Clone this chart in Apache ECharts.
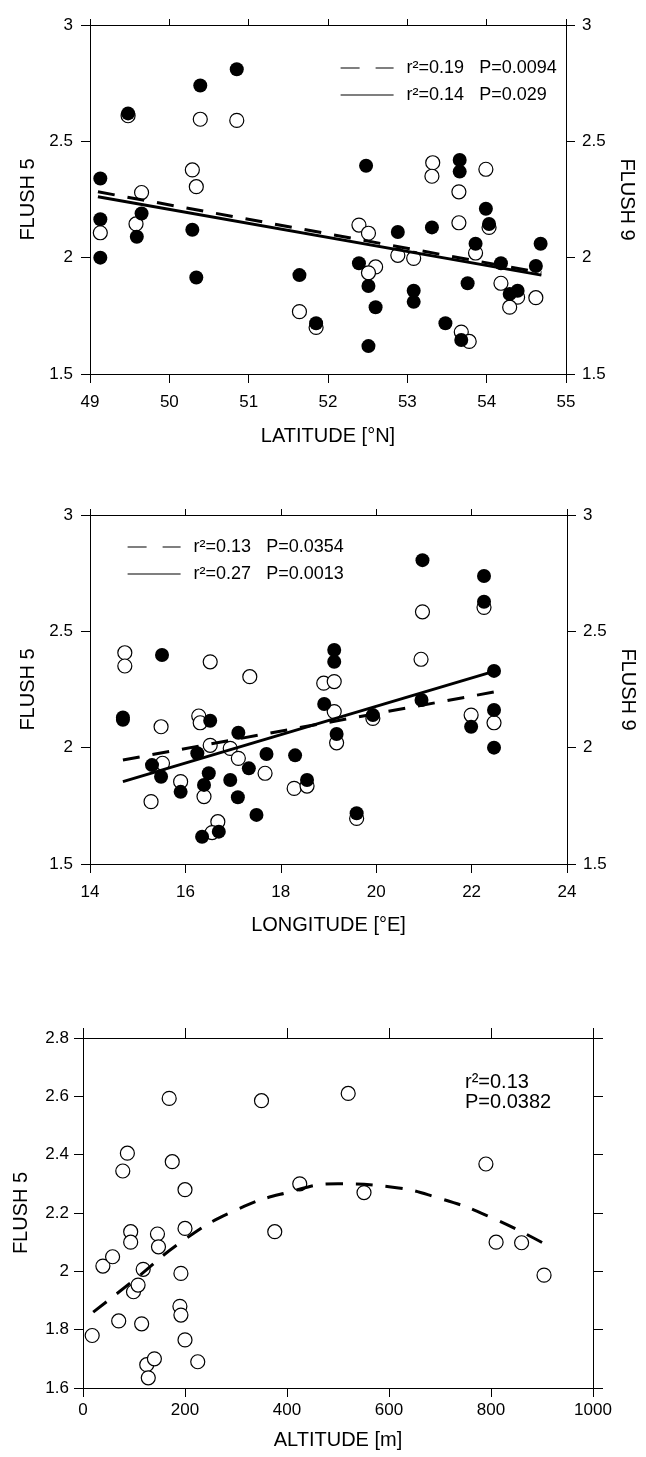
<!DOCTYPE html>
<html>
<head>
<meta charset="utf-8">
<title>FLUSH 5 / FLUSH 9 vs latitude, longitude, altitude</title>
<script src="https://cdn.jsdelivr.net/npm/echarts@6/dist/echarts.min.js"></script>
<style>
  html, body { margin: 0; padding: 0; background: #fff; }
  #chart { width: 646px; height: 1457px; }
</style>
</head>
<body>
<div id="chart"></div>
<script>
// ---- panel 1 : latitude [°N] ----
const latFilled = [
  [50.85, 2.81], [50.39, 2.74], [49.48, 2.62], [49.13, 2.34], [49.13, 2.165], [49.13, 2.0],
  [49.65, 2.19], [49.59, 2.09], [50.29, 2.12], [50.34, 1.915], [52.48, 2.395], [53.66, 2.42],
  [53.66, 2.37], [53.99, 2.21], [54.03, 2.145], [52.88, 2.11], [53.31, 2.13], [53.86, 2.06],
  [54.68, 2.06], [54.62, 1.964], [54.18, 1.976], [52.39, 1.976], [51.64, 1.925], [52.51, 1.878],
  [53.08, 1.858], [53.08, 1.81], [53.76, 1.89], [52.60, 1.787], [54.29, 1.844], [54.39, 1.858],
  [51.85, 1.718], [53.48, 1.718], [53.68, 1.646], [52.51, 1.62]
]
const latOpen = [
  [49.48, 2.61], [50.39, 2.595], [50.85, 2.59], [50.29, 2.377], [50.34, 2.305], [49.65, 2.28],
  [49.13, 2.107], [49.58, 2.145], [53.32, 2.408], [53.31, 2.35], [53.99, 2.38], [53.65, 2.283],
  [53.65, 2.15], [52.39, 2.14], [52.51, 2.105], [52.88, 2.01], [53.08, 1.997], [53.86, 2.02],
  [52.60, 1.96], [52.51, 1.935], [54.18, 1.89], [54.39, 1.83], [54.29, 1.787], [54.62, 1.828],
  [51.64, 1.768], [51.85, 1.70], [53.68, 1.68], [53.78, 1.64], [54.03, 2.13]
]
const latDashed = [[49.1, 2.283], [54.69, 1.935]]
const latSolid = [[49.1, 2.262], [54.69, 1.925]]
const latDashedName = 'r²=0.19   P=0.0094'
const latSolidName = 'r²=0.14   P=0.029'

// ---- panel 2 : longitude [°E] ----
const lonFilled = [
  [15.51, 2.398], [14.69, 2.13], [14.69, 2.12], [16.52, 2.116], [17.11, 2.064], [16.25, 1.976],
  [15.30, 1.925], [15.49, 1.875], [16.49, 1.89], [16.94, 1.861], [17.70, 1.973], [17.33, 1.911],
  [15.90, 1.81], [16.39, 1.84], [17.10, 1.787], [17.49, 1.711], [16.35, 1.617], [16.70, 1.639],
  [20.97, 2.806], [22.26, 2.738], [22.26, 2.627], [19.12, 2.42], [19.12, 2.369], [22.47, 2.33],
  [18.91, 2.188], [20.95, 2.205], [22.47, 2.162], [19.93, 2.14], [21.99, 2.09], [19.17, 2.059],
  [22.47, 2.0], [18.30, 1.967], [18.55, 1.861], [19.59, 1.718]
]
const lonOpen = [
  [14.73, 2.408], [14.73, 2.351], [16.52, 2.369], [17.35, 2.305], [15.49, 2.09], [16.28, 2.136],
  [16.31, 2.107], [16.52, 2.01], [16.94, 1.997], [17.11, 1.954], [15.52, 1.933], [17.67, 1.89],
  [15.90, 1.854], [16.39, 1.79], [15.28, 1.768], [16.68, 1.682], [16.56, 1.635], [20.97, 2.584],
  [22.26, 2.603], [20.94, 2.38], [18.90, 2.277], [19.12, 2.284], [19.12, 2.155], [19.93, 2.126],
  [21.99, 2.14], [22.47, 2.107], [19.17, 2.021], [18.28, 1.825], [18.55, 1.835], [19.59, 1.696]
]
const lonDashed = [[14.69, 1.947], [22.49, 2.24]]
const lonSolid = [[14.69, 1.854], [22.43, 2.326]]
const lonDashedName = 'r²=0.13   P=0.0354'
const lonSolidName = 'r²=0.27   P=0.0013'

// ---- panel 3 : altitude [m] ----
const altOpen = [
  [18, 1.78], [39, 2.018], [58, 2.05], [70, 1.83], [78, 2.344], [87, 2.405], [93.5, 2.136],
  [93.5, 2.10], [99, 1.93], [108, 1.953], [115, 1.82], [118, 2.007], [125, 1.68], [128, 1.635],
  [140, 1.70], [146, 2.128], [148, 2.084], [169, 2.593], [175, 2.376], [192, 1.993], [190, 1.88],
  [192, 1.85], [200, 2.28], [200, 2.147], [200, 1.765], [225, 1.69], [350, 2.585], [376, 2.136],
  [425, 2.30], [520, 2.61], [551, 2.27], [790, 2.368], [810, 2.10], [860, 2.098], [904, 1.987]
]
const altCurve = [
  [20, 1.86], [100, 1.97], [200, 2.11], [300, 2.21], [400, 2.27], [500, 2.30],
  [600, 2.29], [700, 2.25], [800, 2.185], [904, 2.095]
]
const altNote = 'r²=0.13\nP=0.0382'

const font = "'Liberation Sans', Arial, sans-serif"
const dash = [17, 13]

// one axis of a closed box, ticks always pointing outwards
const boxAxis = (gridIndex, position, o) => ({
  type: 'value',
  gridIndex,
  position,
  min: o.min,
  max: o.max,
  interval: o.interval,
  axisLine: {show: true, onZero: false, lineStyle: {color: '#000', width: 1}},
  axisTick: {show: true, inside: false, length: o.tick || 9, lineStyle: {color: '#000', width: 1}},
  axisLabel: {
    show: !!o.label,
    color: '#000',
    fontSize: 17,
    fontFamily: font,
    margin: o.margin || 10,
    formatter: (v) => String(+v.toFixed(2)) // no thousands separator (1000, not 1,000)
  },
  splitLine: {show: false},
  name: o.name || '',
  nameLocation: 'middle',
  nameGap: o.nameGap || 0,
  nameRotate: o.nameRotate,
  nameTextStyle: {color: '#000', fontSize: 20, fontFamily: font}
})

const dots = (name, data, panel, filled) => ({
  name,
  type: 'scatter',
  xAxisIndex: panel * 2,
  yAxisIndex: panel * 2,
  data,
  symbol: 'circle',
  symbolSize: 14,
  itemStyle: filled
    ? {color: '#000', opacity: 1}
    : {color: '#fff', borderColor: '#000', borderWidth: 1.2, opacity: 1},
  z: filled ? 3 : 2,
  silent: true
})

const fitLine = (name, data, panel, dashed, smooth) => ({
  name,
  type: 'line',
  xAxisIndex: panel * 2,
  yAxisIndex: panel * 2,
  data,
  smooth: !!smooth,
  symbol: 'none',
  itemStyle: {color: '#000'},
  lineStyle: {color: '#000', width: 3, type: dashed ? dash : 'solid'},
  z: 4,
  silent: true
})

const legendBox = (left, top, dashedName, solidName) => ({
  left,
  top,
  orient: 'vertical',
  itemWidth: 53,
  itemHeight: 12,
  itemGap: 9,
  selectedMode: false,
  textStyle: {color: '#000', fontSize: 18, fontFamily: font, padding: [0, 0, 0, 8]},
  data: [
    {name: dashedName, itemStyle: {opacity: 0}, lineStyle: {color: '#000', width: 1.2, type: [19, 16]}},
    {name: solidName, itemStyle: {opacity: 0}, lineStyle: {color: '#000', width: 1.2, type: 'solid'}}
  ]
})

const chart = echarts.init(document.getElementById('chart'), null, {renderer: 'canvas'})

const option = {
  animation: false,
  backgroundColor: '#fff',
  grid: [
    {left: 90, top: 25, width: 476, height: 349},
    {left: 90, top: 515, width: 482, height: 349},
    {left: 83, top: 1038, width: 510, height: 350}
  ],
  xAxis: [
    boxAxis(0, 'bottom', {min: 49, max: 55, interval: 1, label: true, margin: 20, name: 'LATITUDE [°N]', nameGap: 52}),
    boxAxis(0, 'top', {min: 49, max: 55, interval: 1, tick: 6}),
    boxAxis(1, 'bottom', {min: 14, max: 24, interval: 2, label: true, margin: 20, name: 'LONGITUDE [°E]', nameGap: 51}),
    boxAxis(1, 'top', {min: 14, max: 24, interval: 2, tick: 6}),
    boxAxis(2, 'bottom', {min: 0, max: 1000, interval: 200, label: true, margin: 14, name: 'ALTITUDE [m]', nameGap: 42}),
    boxAxis(2, 'top', {min: 0, max: 1000, interval: 200, tick: 10})
  ],
  yAxis: [
    boxAxis(0, 'left', {min: 1.5, max: 3, interval: 0.5, label: true, margin: 17, name: 'FLUSH 5', nameGap: 48}),
    boxAxis(0, 'right', {min: 1.5, max: 3, interval: 0.5, label: true, margin: 16, name: 'FLUSH 9', nameGap: 51, nameRotate: -90}),
    boxAxis(1, 'left', {min: 1.5, max: 3, interval: 0.5, label: true, margin: 17, name: 'FLUSH 5', nameGap: 48}),
    boxAxis(1, 'right', {min: 1.5, max: 3, interval: 0.5, label: true, margin: 16, name: 'FLUSH 9', nameGap: 51, nameRotate: -90}),
    boxAxis(2, 'left', {min: 1.6, max: 2.8, interval: 0.2, label: true, margin: 14, name: 'FLUSH 5', nameGap: 52}),
    boxAxis(2, 'right', {min: 1.6, max: 2.8, interval: 0.2, tick: 10})
  ],
  legend: [
    legendBox(335, 54, latDashedName, latSolidName),
    legendBox(122, 533, lonDashedName, lonSolidName)
  ],
  graphic: [
    {
      type: 'text',
      left: 465,
      top: 1072,
      silent: true,
      style: {text: altNote, fill: '#000', fontSize: 20, fontFamily: font, lineHeight: 20}
    }
  ],
  series: [
    dots('lat open', latOpen, 0, false),
    dots('lat filled', latFilled, 0, true),
    fitLine(latDashedName, latDashed, 0, true),
    fitLine(latSolidName, latSolid, 0, false),

    dots('lon open', lonOpen, 1, false),
    dots('lon filled', lonFilled, 1, true),
    fitLine(lonDashedName, lonDashed, 1, true),
    fitLine(lonSolidName, lonSolid, 1, false),

    dots('alt open', altOpen, 2, false),
    fitLine('alt fit', altCurve, 2, true, true)
  ]
}

chart.setOption(option)
</script>
</body>
</html>
